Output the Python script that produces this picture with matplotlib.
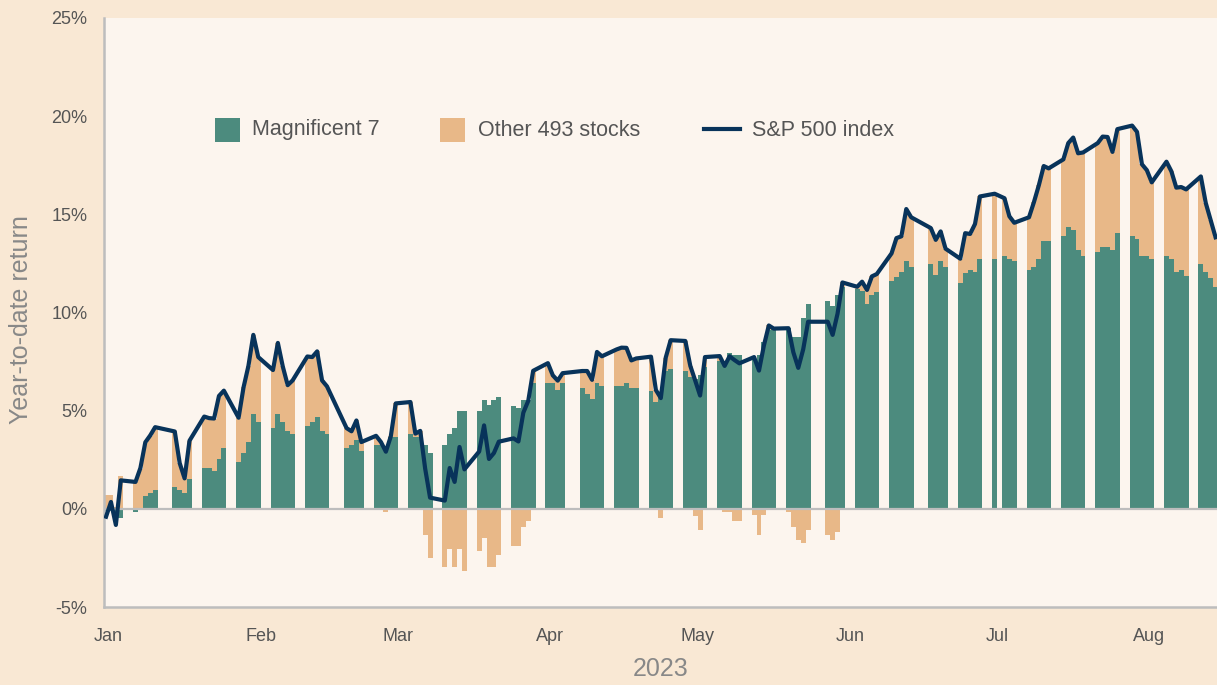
import matplotlib
matplotlib.use('Agg')
import matplotlib.pyplot as plt
import numpy as np
import pandas as pd
from matplotlib.patches import Rectangle
from matplotlib.lines import Line2D

plt.rcParams['font.family'] = ['Liberation Sans', 'DejaVu Sans']

W, H = 1217, 685

# trading days 2023 (market holidays removed)
holidays = ['2023-01-16', '2023-02-20', '2023-04-07', '2023-05-29', '2023-06-19', '2023-07-04']
days = pd.bdate_range('2023-01-03', '2023-08-17')
days = days[~days.isin(pd.to_datetime(holidays))]

# S&P 500 year-to-date return, %
sp500 = [
    -0.40, 0.35, -0.82, 1.45,
    1.37, 2.08, 3.39, 3.74, 4.16,
    3.94, 2.33, 1.55, 3.47,
    4.70, 4.62, 4.60, 5.75, 6.02,
    4.64, 6.18, 7.28, 8.86, 7.73,
    7.07, 8.45, 7.25, 6.30, 6.54,
    7.76, 7.73, 8.02, 6.54, 6.24,
    4.11, 3.95, 4.50, 3.40,
    3.72, 3.40, 2.91, 3.69, 5.37,
    5.44, 3.83, 3.97, 2.05, 0.57,
    0.42, 2.08, 1.37, 3.15, 2.01,
    2.92, 4.25, 2.54, 2.84, 3.42,
    3.59, 3.43, 4.90, 5.50, 7.03,
    7.42, 6.80, 6.53, 6.91,
    7.02, 7.02, 6.57, 7.99, 7.77,
    8.12, 8.21, 8.20, 7.56, 7.66,
    7.75, 6.05, 5.64, 7.70, 8.59,
    8.55, 7.29, 6.54, 5.77, 7.73,
    7.78, 7.28, 7.77, 7.58, 7.41,
    7.73, 7.04, 8.32, 9.34, 9.18,
    9.20, 7.97, 7.18, 8.12, 9.53,
    9.53, 8.86, 9.94, 11.53,
    11.31, 11.57, 11.15, 11.84, 11.96,
    13.01, 13.79, 13.88, 15.27, 14.85,
    14.30, 13.70, 14.13, 13.25,
    12.74, 14.04, 14.00, 14.51, 15.91,
    16.05,
    15.82, 14.90, 14.57,
    14.85, 15.62, 16.48, 17.46, 17.34,
    17.80, 18.63, 18.91, 18.11, 18.15,
    18.63, 18.96, 18.94, 18.18, 19.34,
    19.52, 19.20, 17.55, 17.25, 16.63,
    17.68, 17.19, 16.36, 16.39, 16.27,
    16.93, 15.58, 14.71, 13.83,
]

# contribution of the Magnificent 7, %
mag7 = [
    -0.10, -0.10, -0.47, -0.47,
    -0.17, 0.05, 0.66, 0.83, 0.97,
    1.09, 0.97, 0.83, 1.53,
    2.10, 2.10, 1.95, 2.53, 3.12,
    2.39, 2.84, 3.40, 4.84, 4.40,
    4.10, 4.84, 4.40, 3.97, 3.82,
    4.24, 4.40, 4.70, 3.97, 3.82,
    3.10, 3.26, 3.50, 2.95,
    3.26, 3.26, 3.10, 3.65, 3.68,
    3.82, 3.65, 3.65, 3.26, 2.84,
    3.26, 3.82, 4.10, 5.00, 5.00,
    5.00, 5.55, 5.30, 5.55, 5.69,
    5.25, 5.13, 5.55, 5.55, 6.43,
    6.43, 6.43, 6.03, 6.43,
    6.15, 5.86, 5.59, 6.43, 6.26,
    6.26, 6.26, 6.43, 6.15, 6.15,
    5.98, 5.45, 5.90, 7.00, 7.13,
    7.00, 6.70, 6.60, 6.80, 7.20,
    7.55, 7.55, 7.95, 7.86, 7.86,
    7.59, 7.84, 8.52, 9.10, 9.15,
    9.20, 8.74, 8.74, 9.71, 10.44,
    10.60, 10.34, 10.90, 11.30,
    11.19, 11.10, 10.44, 10.90, 11.02,
    11.60, 11.83, 12.04, 12.60, 12.34,
    12.48, 11.92, 12.60, 12.34,
    11.49, 12.00, 12.17, 12.04, 12.73,
    12.73,
    12.90, 12.73, 12.60,
    12.17, 12.34, 12.73, 13.62, 13.62,
    13.90, 14.33, 14.18, 13.19, 12.90,
    13.06, 13.33, 13.33, 13.19, 14.04,
    13.90, 13.73, 12.90, 12.90, 12.73,
    12.90, 12.73, 12.04, 12.17, 11.88,
    12.48, 12.04, 11.75, 11.32,
]

# contribution of the other 493 stocks, %
other493 = [
    0.68, 0.68, 0.10, 1.68,
    1.35, 2.00, 2.70, 2.90, 3.20,
    2.85, 1.36, 0.72, 1.94,
    2.60, 2.52, 2.65, 3.22, 2.90,
    2.25, 3.34, 3.88, 4.02, 3.33,
    2.97, 3.61, 2.85, 2.33, 2.72,
    3.52, 3.33, 3.32, 2.57, 2.42,
    1.01, 0.69, 1.00, 0.45,
    0.46, 0.14, -0.17, 0.04, 1.69,
    1.62, 0.18, 0.32, -1.32, -2.48,
    -2.94, -2.05, -2.94, -2.05, -3.19,
    -2.17, -1.49, -2.94, -2.94, -2.34,
    -1.88, -1.88, -0.90, -0.60, 0.60,
    0.99, 0.37, 0.50, 0.48,
    0.87, 1.16, 0.98, 1.56, 1.51,
    1.86, 1.95, 1.77, 1.41, 1.51,
    1.77, 0.60, -0.48, 0.70, 1.46,
    1.55, 0.59, -0.39, -1.07, 0.53,
    0.23, -0.17, -0.17, -0.60, -0.60,
    -0.30, -1.32, -0.30, 0.24, 0.03,
    -0.17, -0.90, -1.60, -1.75, -1.07,
    -1.32, -1.60, -1.19, 0.23,
    0.12, 0.47, 0.71, 0.94, 0.94,
    1.41, 1.96, 1.84, 2.67, 2.51,
    1.82, 1.78, 1.53, 0.91,
    1.25, 2.04, 1.83, 2.47, 3.18,
    3.32,
    2.92, 2.17, 1.97,
    2.68, 3.28, 3.75, 3.84, 3.72,
    3.90, 4.30, 4.73, 4.92, 5.25,
    5.57, 5.63, 5.61, 4.99, 5.30,
    5.62, 5.47, 4.65, 4.35, 3.90,
    4.78, 4.46, 4.32, 4.22, 4.39,
    4.45, 3.54, 2.96, 2.51,
]

month_names = ['Jan', 'Feb', 'Mar', 'Apr', 'May', 'Jun', 'Jul', 'Aug']
y_ticks = [-5, 0, 5, 10, 15, 20, 25]

green = '#4c8b7e'
tan = '#e8b888'
navy = '#08335a'
outer_bg = '#f9e8d4'
inner_bg = '#fcf5ee'
grey_line = '#bdbdbd'

mag7 = np.array(mag7)
other493 = np.array(other493)
same_sign = np.sign(mag7) == np.sign(other493)
tan_bottom = np.where(same_sign, mag7, 0.0)

fig = plt.figure(figsize=(W / 100, H / 100), dpi=100, facecolor=outer_bg)
ax = fig.add_axes([104 / W, (H - 607) / H, (W - 104) / W, (607 - 18) / H])
ax.set_facecolor(inner_bg)

ax.bar(days, mag7, width=1.0, color=green, linewidth=0, zorder=2)
ax.bar(days, other493, width=1.0, bottom=tan_bottom, color=tan, linewidth=0, zorder=2)
ax.axhline(0, color=grey_line, lw=1.6, zorder=3)
ax.plot(days, sp500, color=navy, lw=3.0, solid_joinstyle='round', zorder=4)

ax.set_xlim(pd.Timestamp('2023-01-03') - pd.Timedelta(hours=10),
            pd.Timestamp('2023-08-17') + pd.Timedelta(hours=7))
ax.set_ylim(-5, 25)

ax.set_yticks(y_ticks)
ax.set_yticklabels([f'{v}%' for v in y_ticks])
tick_pos = [pd.Timestamp(f'2023-{m:02d}-03 12:00') for m in range(1, 9)]
ax.set_xticks(tick_pos)
ax.set_xticklabels(month_names)
ax.tick_params(axis='both', length=0, labelsize=13, labelcolor='#555555')
ax.tick_params(axis='y', pad=12)
ax.tick_params(axis='x', pad=15)

for side in ['top', 'right']:
    ax.spines[side].set_visible(False)
for side in ['left', 'bottom']:
    ax.spines[side].set_color(grey_line)
    ax.spines[side].set_linewidth(1.8)

ax.set_xlabel('2023', fontsize=18, color='#888888', labelpad=9)
fig.text(21 / W, 1 - 320 / H, 'Year-to-date return', rotation=90, ha='center', va='center',
         fontsize=18, color='#888888')

# legend
def fx(px):
    return px / W


def fy(py):
    return 1 - py / H


fig.add_artist(Rectangle((fx(215), fy(142)), 25 / W, 24 / H, transform=fig.transFigure,
                         color=green, lw=0))
fig.text(fx(252), fy(130), 'Magnificent 7', fontsize=15.5, color='#555555', va='center')
fig.add_artist(Rectangle((fx(440), fy(142)), 25 / W, 24 / H, transform=fig.transFigure,
                         color=tan, lw=0))
fig.text(fx(478), fy(130), 'Other 493 stocks', fontsize=15.5, color='#555555', va='center')
fig.add_artist(Line2D([fx(704), fx(740)], [fy(129), fy(129)], transform=fig.transFigure,
                      color=navy, lw=3.0))
fig.text(fx(752), fy(130), 'S&P 500 index', fontsize=15.5, color='#555555', va='center')

fig.savefig('out.png', dpi=100, facecolor=outer_bg)
